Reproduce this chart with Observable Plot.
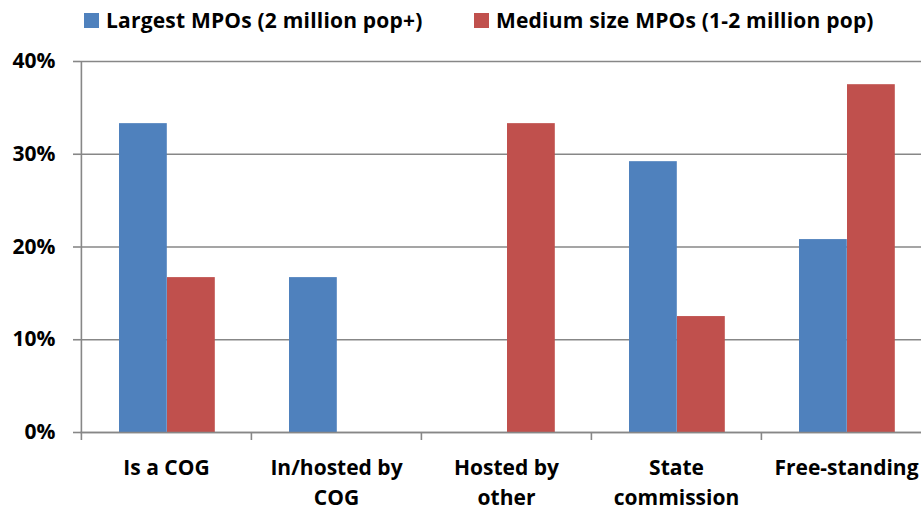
<!DOCTYPE html>
<html>
<head>
<meta charset="utf-8">
<script src="https://cdn.jsdelivr.net/npm/d3@7"></script>
<script src="https://cdn.jsdelivr.net/npm/@observablehq/plot@0.6"></script>
<style>
  body { margin: 0; background: #fff; }
  #chart { position: relative; width: 921px; height: 512px; overflow: hidden; font-family: "Open Sans", Lato, sans-serif; }
  .key { position: absolute; top: 6px; height: 28px; display: flex; align-items: center; font-weight: 700; font-size: 21px; letter-spacing: 0.2px; color: #000; white-space: nowrap; }
  .key i { display: inline-block; width: 15px; height: 15px; margin-right: 7px; }
  #chart svg { position: absolute; left: 0; top: 0; }
</style>
</head>
<body>
<div id="chart"></div>
<script>
const categories = ["Is a COG", "In/hosted by COG", "Hosted by other", "State commission", "Free-standing"];
const tickLabels = ["Is a COG", "In/hosted by\nCOG", "Hosted by\nother", "State\ncommission", "Free-standing"];
const seriesNames = ["Largest MPOs (2 million pop+)", "Medium size MPOs (1-2 million pop)"];
const largestShare = [33.3, 16.7, 0, 29.2, 20.8];
const mediumShare = [16.7, 0, 33.3, 12.5, 37.5];
const yTicks = [0, 10, 20, 30, 40];
const seriesColors = ["#4F81BD", "#C0504D"];

const rows = (values) => categories.map((c, i) => ({category: c, value: values[i]}));
const largestRows = rows(largestShare);
const mediumRows = rows(mediumShare);

const font = "'Open Sans', Lato, sans-serif";
const gray = "#878787";
const halfBand = 851 / 5 / 2;

const chart = Plot.plot({
  width: 921,
  height: 512,
  marginTop: 61,
  marginBottom: 80,
  marginLeft: 80,
  marginRight: 0,
  style: {fontFamily: font, fontWeight: 700, fontSize: "21px", color: "#000", background: "#fff"},
  x: {domain: categories, range: [80, 931], padding: 0, label: null},
  y: {domain: [0, 40], ticks: yTicks, label: null},
  marks: [
    Plot.gridY(yTicks, {stroke: gray, strokeOpacity: 1, strokeWidth: 1.6}),
    Plot.barY(largestRows, {x: "category", y: "value", fill: seriesColors[0], insetLeft: 38, insetRight: 84.2}),
    Plot.barY(mediumRows, {x: "category", y: "value", fill: seriesColors[1], insetLeft: 86, insetRight: 36.2}),
    Plot.axisY(yTicks, {tickSize: 7, tickPadding: 18, stroke: gray, strokeWidth: 1.6, strokeOpacity: 1, tickFormat: d => d + "%", fontSize: 21, fontWeight: 700, fill: "#000", label: null}),
    // value axis line along the left edge of the first category band
    Plot.ruleX([categories[0]], {dx: -halfBand, y1: 0, y2: 40, stroke: gray, strokeWidth: 1.6}),
    // category boundary ticks hanging below the baseline
    Plot.ruleX(categories, {dx: -halfBand, y1: 0, y2: 0, insetBottom: -8, stroke: gray, strokeWidth: 1.6}),
    Plot.ruleY([0], {stroke: gray, strokeWidth: 1.6}),
    Plot.axisX({tickSize: 0, tickPadding: 21, tickFormat: d => tickLabels[categories.indexOf(d)], fontSize: 21, fontWeight: 700, fill: "#000", lineHeight: 1.43, label: null})
  ]
});

const host = document.getElementById("chart");
host.appendChild(chart);

// legend keys
const keyLefts = [84, 474];
seriesNames.forEach((name, i) => {
  const k = document.createElement("div");
  k.className = "key";
  k.style.left = keyLefts[i] + "px";
  k.innerHTML = `<i style="background:${seriesColors[i]}"></i>`;
  k.appendChild(document.createTextNode(name));
  host.appendChild(k);
});
</script>
</body>
</html>
